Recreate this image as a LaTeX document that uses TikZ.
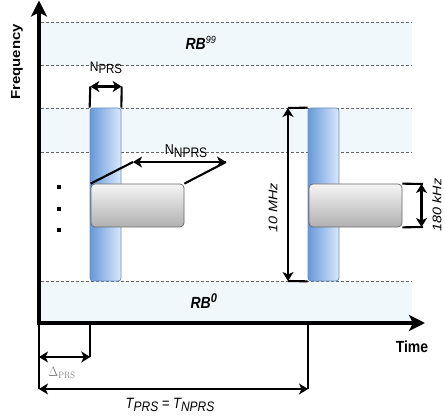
\documentclass[tikz,border=0pt]{standalone}
\usepackage[no-math]{fontspec}
\setmainfont{Liberation Sans}
\usetikzlibrary{arrows.meta}
\definecolor{band}{HTML}{F0F8FB}
\definecolor{barL}{HTML}{6699D8}
\definecolor{barR}{HTML}{DAE8FC}
\definecolor{barB}{HTML}{6C8EBF}
\definecolor{boxT}{HTML}{F5F5F5}
\definecolor{boxB}{HTML}{B0B0B0}
\definecolor{boxD}{HTML}{666666}
\definecolor{dash}{HTML}{666666}
\newcommand{\vstr}[1]{\scalebox{1}[1.15]{#1}}
\newcommand{\hstr}[1]{\scalebox{1.15}[1]{#1}}
\newcommand{\fs}[1]{\fontsize{#1}{#1}\selectfont}
\begin{document}
\begin{tikzpicture}[x=1pt,y=-1pt,
  dashline/.style={draw=dash, line width=0.8pt, dash pattern=on 2.5pt off 2.5pt},
  bar/.style={draw=barB, line width=0.7pt, left color=barL, right color=barR, rounded corners=3pt,
              minimum width=31pt, minimum height=173pt, inner sep=0pt},
  gbox/.style={draw=boxD, line width=0.7pt, top color=boxT, bottom color=boxB, rounded corners=4pt,
              minimum width=93pt, minimum height=43pt, inner sep=0pt},
  axis/.style={line width=3.4pt, -{Stealth[length=16pt,width=16pt,inset=4pt]}},
  dimline/.style={line width=2.1pt},
  dimarr/.style={line width=2.1pt, {Stealth[length=9pt,width=11pt,inset=2.5pt]}-{Stealth[length=9pt,width=11pt,inset=2.5pt]}},
  lab/.style={inner sep=0pt, font=\fs{12}},
  dot/.style={rectangle, fill=black, inner sep=0pt, minimum size=4.2pt}
]
\useasboundingbox (0,0) rectangle (445,417);
% bands
\fill[band] (39,22) rectangle (412,65);
\fill[band] (39,108) rectangle (412,152);
\fill[band] (39,281) rectangle (412,323);
% dashed lines
\draw[dashline] (41,22) -- (412,22);
\draw[dashline] (41,65) -- (412,65);
\draw[dashline] (41,108) -- (412,108);
\draw[dashline] (41,152) -- (412,152);
\draw[dashline] (41,281) -- (412,281);
% RB labels
\node[inner sep=0pt] (rb99) at (201,43) {\vstr{\fs{14}\bfseries\itshape RB\textsuperscript{\mdseries\fs{9}99}}};
\node[inner sep=0pt] (rb0) at (204,301) {\vstr{\fs{14}\bfseries\itshape RB\textsuperscript{\fs{11}0}}};
% bars
\node[bar] (b1) at (105.5,194.5) {};
\node[bar] (b2) at (323.5,194.5) {};
% grey boxes
\node[gbox] (g1) at (137.5,205.5) {};
\node[gbox] (g2) at (355.5,205.5) {};
% dots
\node[dot] (d1) at (59,187) {};
\node[dot] (d2) at (59,209) {};
\node[dot] (d3) at (59,230) {};
% axes
\coordinate (O) at (39,323);
\coordinate (ytop) at (39,0.5);
\coordinate (xend) at (425,323);
\draw[axis] (O) -- (ytop);
\draw[axis] (37.3,323) -- (xend);
\node[inner sep=0pt, rotate=90] (freq) at (17,62) {\hstr{\fs{13}\bfseries Frequency}};
\node[inner sep=0pt] (time) at (412,347) {\vstr{\fs{14}\bfseries Time}};
% N_PRS
\coordinate (n1) at (90.3,86.5);
\coordinate (n2) at (121.7,86.5);
\draw[dimline] (b1.north west) -- (n1);
\draw[dimline] (b1.north east) -- (n2);
\draw[dimarr] (n1) -- (n2);
\node[lab] (lnprs) at (106,68) {\vstr{\fs{12}N\raisebox{-0.35ex}{\fs{11.5}PRS}}};
% N_NPRS
\coordinate (a1) at (133,162);
\coordinate (a2) at (226,162);
\draw[dimline] (g1.north west) -- (a1);
\draw[dimline] (a2) -- (g1.north east);
\draw[dimarr] (a1) -- (a2);
\node[lab] (lnnprs) at (186,151) {\vstr{\fs{12.5}N\raisebox{-0.35ex}{\fs{12}NPRS}}};
% 10 MHz
\coordinate (m1) at (288,108);
\coordinate (m2) at (288,281);
\draw[dimline] (m1) -- (b2.north west);
\draw[dimline] (m2) -- (b2.south west);
\draw[dimarr] (m1) -- (m2);
\node[inner sep=0pt, rotate=90] (l10) at (273,208) {\hstr{\fs{12.5}\itshape 10 MHz}};
% 180 kHz
\coordinate (k1) at (423,184);
\coordinate (k2) at (423,227);
\draw[dimline] (g2.north east) -- (k1);
\draw[dimline] (g2.south east) -- (k2);
\draw[dimarr] ([xshift=-1.5pt]k1) -- ([xshift=-1.5pt]k2);
\node[inner sep=0pt, rotate=90] (l180) at (437,205) {\hstr{\fs{12.5}\itshape 180 kHz}};
% Delta_PRS
\coordinate (t0) at (39,389);
\coordinate (x1) at (90.3,323);
\coordinate (dl1) at (90.3,357);
\coordinate (dl0) at (39,357);
\draw[dimline] (O) -- (t0);
\draw[dimline] (x1) -- (dl1);
\draw[dimarr] (dl0) -- (dl1);
\node[inner sep=0pt, text=gray] (ldel) at (62,373) {\vstr{\fs{12}$\Delta_{\mathrm{PRS}}$}};
% T_PRS
\coordinate (x2) at (308,323);
\coordinate (t1) at (308,389);
\draw[dimline] (x2) -- (t1);
\draw[dimarr] (t0) -- (t1);
\node[inner sep=0pt] (ltprs) at (170,405) {\vstr{\fs{13}\itshape T\raisebox{-0.4ex}{\fs{12}PRS} = T\raisebox{-0.4ex}{\fs{12}NPRS}}};
\end{tikzpicture}
\end{document}
